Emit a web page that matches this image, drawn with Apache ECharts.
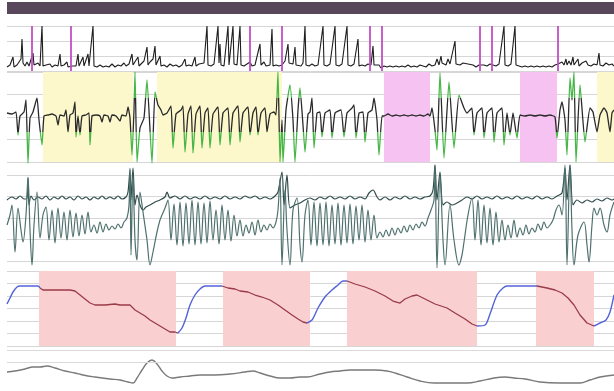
<!DOCTYPE html>
<html><head><meta charset="utf-8">
<script src="https://cdn.jsdelivr.net/npm/echarts@6/dist/echarts.min.js"></script>
<style>html,body{margin:0;padding:0;background:#fff}#c{width:614px;height:391px}</style>
</head><body><div id="c"></div>
<script>
// Sound channel: [time, amplitude]
const snore = [[7,4],[10,6],[12,4],[13,14],[14,4],[17,6],[19,5],[21,12],[22,32],[23,8],[25,5],[27,9],[29,5],[31,7],[33,18],[34,6],[36,5],[38,8],[40,5],[42,45],[43,5],[46,6],[48,4],[50,7],[52,4],[55,6],[58,5],[60,17],[61,5],[64,6],[67,9],[68,4],[70,6],[72,5],[74,7],[76,5],[78,17],[79,5],[81,6],[83,14],[84,5],[86,6],[88,17],[89,5],[91,6],[93,45],[94,5],[97,4],[100,6],[103,4],[106,5],[109,4],[112,7],[115,4],[118,6],[121,5],[124,8],[126,5],[129,7],[132,17],[133,6],[135,8],[138,14],[139,5],[141,7],[144,10],[147,24],[148,6],[150,9],[153,12],[155,25],[156,6],[158,8],[160,15],[161,5],[164,6],[167,4],[170,7],[173,5],[176,6],[179,4],[182,6],[185,12],[186,5],[189,6],[192,5],[195,14],[196,5],[199,7],[201,5],[204,8],[207,45],[208,6],[211,5],[214,7],[216,5],[218,45],[219,8],[220,27],[221,6],[224,5],[226,7],[228,45],[229,6],[231,8],[233,45],[234,7],[237,6],[240,45],[241,6],[244,5],[247,7],[250,9],[252,5],[255,6],[257,8],[260,27],[261,6],[264,9],[266,5],[268,7],[270,6],[272,42],[273,5],[276,6],[279,5],[282,6],[285,10],[288,27],[289,8],[291,10],[293,7],[295,24],[296,6],[298,7],[301,5],[303,8],[305,45],[306,6],[309,5],[312,7],[315,5],[318,6],[320,8],[323,45],[324,6],[327,5],[330,7],[332,5],[335,45],[336,6],[339,5],[342,7],[344,5],[347,45],[348,6],[351,5],[354,7],[356,6],[358,32],[359,5],[362,6],[365,5],[368,7],[371,6],[373,25],[374,6],[376,4],[379,6],[381,3],[384,5],[387,4],[390,5],[393,4],[396,5],[399,4],[402,5],[405,4],[408,6],[411,4],[414,5],[417,4],[420,6],[423,5],[426,4],[429,7],[432,5],[435,6],[437,12],[439,6],[441,15],[442,8],[444,10],[446,6],[448,12],[450,7],[452,8],[455,30],[456,7],[458,9],[460,6],[463,8],[465,6],[468,7],[470,5],[473,6],[476,4],[479,6],[481,4],[484,6],[487,5],[490,7],[493,6],[496,5],[499,7],[501,6],[504,45],[505,6],[508,5],[511,7],[513,6],[515,45],[516,6],[519,5],[522,4],[525,5],[528,4],[531,5],[534,4],[537,5],[540,4],[543,5],[546,4],[549,5],[552,4],[555,6],[558,7],[560,5],[562,9],[564,6],[566,12],[567,6],[569,10],[571,6],[573,14],[574,6],[576,8],[578,12],[579,5],[582,8],[584,6],[586,10],[588,6],[591,5],[594,7],[597,6],[599,18],[600,6],[603,5],[606,8],[609,6],[612,7],[614,5]];
// Scored sound events (time)
const snoreEvents = [32,71,250,282,370,382,480,492,558];

// Effort channel: [time, amplitude]
const effort = [[7,49],[12,48],[16,50],[18,27],[20,46],[24,50],[26,62],[28,-1],[30,44],[33,50],[37,64],[39,42],[42,17],[44,46],[48,47],[52,48],[56,46],[58,37],[60,47],[64,46],[66,52],[68,30],[70,47],[73,49],[75,60],[76,25],[78,46],[80,27],[82,46],[86,47],[89,49],[90,17],[92,46],[96,47],[100,46],[102,40],[104,47],[108,46],[110,40],[112,47],[116,46],[120,41],[122,47],[126,46],[128,55],[130,44],[132,7],[134,52],[135,90],[137,0],[140,34],[144,44],[147,82],[152,-1],[155,70],[158,57],[161,52],[163,47],[167,49],[171,56],[173,14],[176,48],[181,52],[183,56],[185,10],[188,48],[191,56],[193,9],[196,48],[200,56],[202,14],[205,49],[208,54],[210,14],[213,48],[218,55],[220,17],[223,49],[228,54],[230,17],[233,49],[238,56],[240,20],[243,49],[248,55],[250,27],[253,49],[256,55],[258,27],[261,49],[265,54],[267,30],[270,48],[274,50],[276,47],[278,90],[280,0],[282,42],[283,0],[286,52],[290,77],[293,42],[295,0],[298,52],[300,74],[303,37],[305,10],[308,48],[310,50],[312,64],[314,14],[317,49],[320,50],[322,25],[325,49],[330,52],[332,24],[335,49],[341,52],[344,25],[347,49],[352,54],[354,57],[356,24],[359,49],[363,50],[365,20],[368,49],[372,52],[374,64],[377,42],[379,7],[382,46],[384,46],[388,48],[392,46],[396,47],[400,46],[404,47],[408,46],[412,47],[416,46],[420,47],[424,46],[428,48],[430,46],[432,54],[435,32],[437,12],[440,89],[444,4],[449,80],[454,14],[459,67],[464,54],[467,49],[470,52],[472,54],[474,27],[477,49],[482,54],[484,24],[487,49],[492,54],[494,20],[497,49],[502,54],[504,17],[507,49],[510,27],[513,49],[517,24],[520,47],[525,46],[530,47],[535,46],[540,47],[545,46],[550,47],[555,45],[557,24],[560,52],[562,60],[565,42],[567,7],[570,84],[572,62],[574,90],[576,0],[580,77],[585,20],[590,54],[593,50],[597,30],[600,47],[604,54],[607,49],[610,30],[612,49],[614,52]];
const effortYellow = [[43,133],[157,282],[597,614]];
const effortPink = [[384,430],[520,557]];

// Airflow channels: [time, amplitude]
const flowUpper = [[7,61],[12,64],[16,62],[20,65],[24,62],[27,63],[28,83],[29,56],[31,65],[34,61],[38,64],[42,62],[46,65],[50,61],[54,64],[58,62],[62,65],[66,62],[70,64],[74,61],[78,65],[82,62],[86,64],[90,61],[94,64],[98,62],[102,65],[106,62],[110,64],[114,62],[118,65],[122,62],[126,64],[128,69],[130,91],[131,61],[133,93],[135,56],[137,66],[140,56],[143,51],[146,54],[150,56],[155,59],[160,61],[165,64],[167,69],[170,63],[175,65],[180,62],[185,65],[190,62],[195,64],[200,62],[205,65],[210,62],[215,64],[220,62],[225,65],[230,62],[235,64],[240,62],[245,65],[250,63],[255,65],[260,62],[265,64],[270,62],[275,65],[278,69],[282,89],[284,56],[287,86],[290,53],[295,56],[300,58],[305,61],[310,63],[315,61],[320,64],[325,62],[330,65],[335,62],[340,64],[345,62],[350,65],[355,62],[360,64],[365,62],[369,68],[373,71],[377,64],[380,61],[385,64],[390,61],[395,64],[400,62],[405,65],[410,62],[415,64],[420,62],[425,64],[430,65],[433,71],[435,96],[437,61],[440,89],[443,56],[447,59],[452,56],[457,58],[462,61],[467,64],[472,62],[477,65],[482,62],[487,64],[492,62],[497,65],[502,62],[507,64],[512,62],[517,65],[522,62],[527,64],[532,62],[537,65],[542,62],[547,64],[552,62],[557,65],[562,68],[565,93],[567,61],[570,96],[573,56],[577,61],[582,58],[587,61],[592,59],[597,62],[602,60],[607,63],[612,61],[614,62]];
const flowLower = [[7,36],[10,46],[12,56],[15,9],[18,53],[21,31],[23,19],[26,46],[28,84],[30,31],[32,-4],[34,36],[37,69],[40,23],[43,46],[46,54],[49,21],[52,51],[55,18],[58,53],[61,23],[64,49],[67,21],[70,51],[73,24],[76,48],[79,25],[82,46],[85,27],[88,49],[91,29],[94,36],[97,28],[100,39],[103,29],[106,37],[109,31],[112,35],[115,32],[118,37],[121,33],[124,39],[127,43],[129,56],[130,93],[131,6],[133,86],[135,21],[137,1],[140,69],[143,49],[147,21],[150,-4],[153,9],[157,29],[160,41],[162,46],[165,53],[168,61],[171,21],[174,57],[177,16],[180,59],[183,15],[186,58],[189,17],[192,61],[195,16],[198,59],[201,17],[204,58],[207,18],[210,60],[213,21],[216,51],[219,17],[222,56],[225,21],[228,51],[231,20],[234,46],[237,25],[240,41],[243,25],[246,36],[249,28],[252,39],[255,26],[258,41],[261,29],[264,36],[267,31],[270,37],[273,33],[276,39],[278,51],[280,83],[282,-4],[285,71],[287,31],[290,-4],[293,51],[297,63],[300,16],[302,-1],[305,46],[308,61],[311,16],[314,59],[317,15],[320,58],[323,16],[326,59],[329,15],[332,56],[335,17],[338,58],[341,16],[344,56],[347,18],[350,57],[353,17],[356,55],[359,21],[362,56],[365,19],[368,51],[371,21],[374,46],[377,23],[380,29],[383,24],[386,31],[389,25],[392,33],[395,26],[398,33],[401,28],[404,35],[407,29],[410,36],[413,31],[416,37],[419,33],[422,39],[425,35],[428,43],[431,51],[434,61],[435,96],[437,-7],[440,86],[443,21],[445,-4],[450,56],[454,21],[459,-4],[462,6],[464,19],[468,46],[472,63],[475,21],[478,61],[481,16],[484,56],[487,18],[490,53],[493,16],[496,49],[499,19],[502,41],[505,21],[508,36],[511,23],[514,41],[517,24],[520,33],[523,26],[526,36],[529,27],[532,33],[535,29],[538,37],[541,31],[544,39],[547,33],[550,36],[553,41],[556,51],[559,56],[562,46],[565,96],[567,-4],[570,96],[572,31],[574,-4],[578,26],[584,39],[587,16],[589,-1],[592,36],[594,53],[597,46],[600,53],[604,36],[607,29],[610,46],[614,59]];

// Oxygen saturation: recovery (rise) and desaturation (fall) segments
const spo2Rise = [
  [[7,42],[10,48],[13,54],[17,59],[20,60],[30,60],[38,60],[40,58]],
  [[178,13],[182,18],[186,28],[190,41],[195,51],[200,57],[205,60],[215,60],[222,60]],
  [[307,23],[312,26],[318,38],[325,49],[332,56],[338,61],[343,65],[347,65]],
  [[477,20],[485,21],[490,32],[497,51],[503,58],[507,60],[520,60],[537,60]],
  [[594,20],[600,23],[606,26],[610,34],[614,51]]
];
const spo2Fall = [
  [[40,58],[43,56],[50,56],[60,56],[70,56],[75,55],[80,51],[85,47],[90,43],[95,41],[105,41],[115,42],[120,41],[130,41],[135,36],[140,33],[145,30],[150,26],[155,23],[160,20],[165,17],[170,14],[175,14],[178,13]],
  [[222,60],[228,58],[235,57],[240,55],[248,54],[255,51],[262,49],[270,46],[278,41],[285,36],[292,31],[298,27],[303,24],[307,23]],
  [[347,65],[355,62],[365,59],[375,55],[385,50],[393,45],[400,43],[405,47],[412,50],[417,51],[425,47],[435,42],[447,38],[455,33],[465,27],[472,22],[477,20]],
  [[537,60],[547,58],[555,56],[562,53],[568,48],[574,41],[580,31],[587,23],[594,20]]
];
const desatBands = [[39,176],[223,310],[347,477],[536,594]];

// Pulse channel: [time, amplitude]
const pulse = [[7,18],[15,19],[25,21],[33,23],[40,23],[47,24],[55,22],[65,19],[75,17],[83,15],[95,13],[110,11],[120,10],[128,8],[133,7],[137,12],[142,20],[147,27],[152,30],[157,26],[162,19],[167,14],[172,12],[180,13],[190,14],[200,15],[215,15],[230,16],[245,18],[253,19],[260,17],[270,14],[280,12],[290,12],[300,13],[307,13],[320,16],[330,18],[340,19],[350,20],[360,20],[375,20],[387,19],[395,17],[407,13],[420,9],[434,7],[450,7],[467,7],[480,9],[494,12],[505,13],[514,12],[525,11],[540,8],[560,7],[580,7],[590,10],[600,13],[614,15]];
const pulseGuides = [40, 28];

const T0 = 7, T1 = 614;
const joinSegs = segs => segs.reduce((acc, s, i) => i ? acc.concat([[s[0][0], '-']], s) : acc.concat(s), []);

const panels = [
  {top: 26, height: 45, max: 45, interval: 15},
  {top: 72, height: 90, max: 90, interval: 22.5},
  {top: 175, height: 86, max: 86, interval: 21.5},
  {top: 271, height: 75, max: 75, interval: 12.5},
  {top: 350, height: 40, max: 40, interval: 40}
];
const grid = panels.map(p => ({left: 7, right: 0, top: p.top, height: p.height}));
const xAxis = panels.map((p, i) => ({type: 'value', gridIndex: i, min: T0, max: T1, show: false}));
const yAxis = panels.map((p, i) => ({
  type: 'value', gridIndex: i, min: 0, max: p.max, interval: p.interval,
  axisLine: {show: false}, axisTick: {show: false}, axisLabel: {show: false},
  splitLine: {show: i < 4, lineStyle: {color: '#d6d6d6', width: 1}}
}));

const line = (idx, data, color, width, extra) => Object.assign({
  type: 'line', xAxisIndex: idx, yAxisIndex: idx, data, showSymbol: false, symbol: 'none',
  lineStyle: color ? {color, width} : {width}, itemStyle: color ? {color} : {},
  animation: false, silent: true
}, extra || {});

const bandArea = (ranges, color) => ranges.map(r => [{xAxis: r[0], itemStyle: {color}}, {xAxis: r[1]}]);

const series = [
  // background bands
  line(1, [], '#000', 0, {markArea: {silent: true, data: bandArea(effortYellow, '#fcf8cb').concat(bandArea(effortPink, '#f6c2f1'))}}),
  line(3, [], '#000', 0, {markArea: {silent: true, data: bandArea(desatBands, '#f9cfd0')}}),
  // sound
  line(0, snore, '#1e1e1e', 1.1, {
    markLine: {silent: true, symbol: 'none', label: {show: false},
      lineStyle: {color: '#c24fc6', width: 2, type: 'solid', opacity: 0.9},
      data: snoreEvents.map(t => ({xAxis: t}))}
  }),
  // effort (coloured by visualMap)
  line(1, effort, null, 1.3, {clip: false, smooth: 0.15}),
  // airflow
  line(2, flowUpper, '#2f4d4b', 1.2, {clip: false, smooth: 0.3}),
  line(2, flowLower, '#4f716e', 1.2, {clip: false, smooth: 0.35}),
  // SpO2
  line(3, joinSegs(spo2Fall), '#9a3b48', 1.3, {clip: false}),
  line(3, joinSegs(spo2Rise), '#5363d9', 1.4, {clip: false, smooth: 0.3}),
  // pulse
  line(4, pulse, '#7a7a7a', 1.4, {clip: false, smooth: 0.4,
    markLine: {silent: true, symbol: 'none', label: {show: false},
      lineStyle: {color: '#dadada', width: 1, type: 'solid'},
      data: pulseGuides.map(v => ({yAxis: v}))}
  })
];

const chart = echarts.init(document.getElementById('c'), null, {renderer: 'canvas'});
chart.setOption({
  animation: false,
  backgroundColor: '#ffffff',
  grid, xAxis, yAxis, series,
  visualMap: [{
    type: 'piecewise', show: false, seriesIndex: 3, dimension: 1,
    pieces: [{gte: 30, lte: 64, color: '#2a2a2a'}],
    outOfRange: {color: '#46b646'}
  }],
  graphic: [{type: 'rect', left: 7, top: 2, shape: {width: 607, height: 12}, style: {fill: '#58475a'}, silent: true}]
});
</script></body></html>
